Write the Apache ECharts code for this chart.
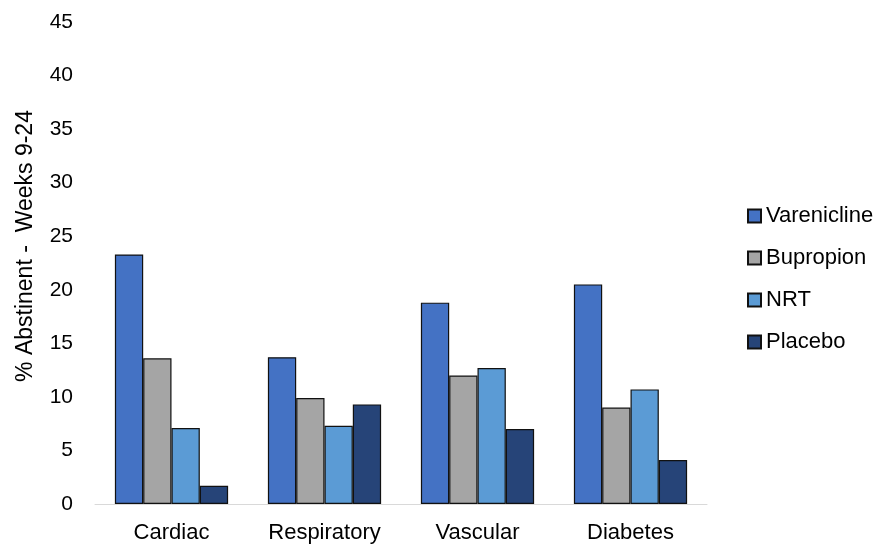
<!DOCTYPE html>
<html><head><meta charset="utf-8">
<script src="https://cdn.jsdelivr.net/npm/echarts@6/dist/echarts.min.js"></script>
<style>html,body{margin:0;padding:0;background:#fff}#c{width:880px;height:545px}</style>
</head><body><div id="c"></div>
<script>
const categories = ['Cardiac', 'Respiratory', 'Vascular', 'Diabetes'];
const varenicline = [23.3, 13.7, 18.8, 20.5];
const bupropion = [13.6, 9.9, 12.0, 9.0];
const nrt = [7.1, 7.3, 12.7, 10.7];
const placebo = [1.7, 9.3, 7.0, 4.1];
const yTicks = [0, 5, 10, 15, 20, 25, 30, 35, 40, 45];
const yTitle = '% Abstinent -  Weeks 9-24';

const font = 'Liberation Sans, Arial, sans-serif';
const chart = echarts.init(document.getElementById('c'));
const mk = (name, data, color) => ({
  name, type: 'bar', data, barGap: '0%', barCategoryGap: '26%',
  itemStyle: { color, borderColor: '#111', borderWidth: 1.2 }
});
chart.setOption({
  animation: false,
  grid: { left: 95, right: 173, top: 22, bottom: 41 },
  legend: {
    orient: 'vertical', left: 742, top: 200, itemGap: 20, itemWidth: 13, itemHeight: 13,
    icon: 'rect',
    textStyle: { fontFamily: font, fontSize: 22, color: '#000' },
    data: ['Varenicline', 'Bupropion', 'NRT', 'Placebo']
  },
  graphic: [{
    type: 'text', x: 26, y: 246, rotation: Math.PI / 2,
    style: { text: yTitle, fontFamily: font, fontSize: 23, fill: '#000', align: 'center', verticalAlign: 'middle' }
  }],
  xAxis: {
    type: 'category', data: categories,
    axisLine: { lineStyle: { color: '#d9d9d9', width: 1 } },
    axisTick: { show: false },
    axisLabel: { fontFamily: font, fontSize: 22, color: '#000', margin: 18 }
  },
  yAxis: {
    type: 'value', min: 0, max: 45, interval: 5,
    splitLine: { show: false }, axisLine: { show: false }, axisTick: { show: false },
    axisLabel: { fontFamily: font, fontSize: 21, color: '#000', margin: 22,
      formatter: v => yTicks.includes(v) ? String(v) : '' }
  },
  series: [
    mk('Varenicline', varenicline, '#4472C4'),
    mk('Bupropion', bupropion, '#A5A5A5'),
    mk('NRT', nrt, '#5B9BD5'),
    mk('Placebo', placebo, '#264478')
  ]
});
</script></body></html>
